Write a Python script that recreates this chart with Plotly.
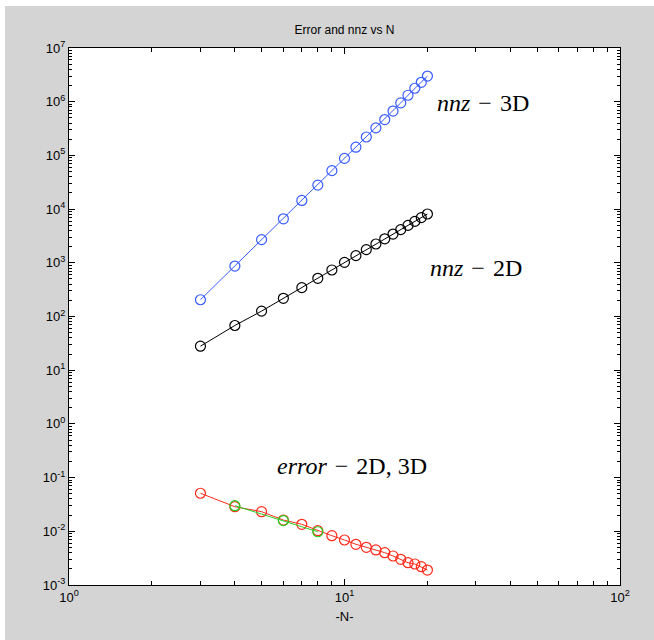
import plotly.graph_objects as go

# ---- data ----
N = [3, 4, 5, 6, 7, 8, 9, 10, 11, 12, 13, 14, 15, 16, 17, 18, 19, 20]
nnz_3d = [205, 870, 2700, 6600, 14500, 28000, 52000, 88000, 142000, 220000,
          325000, 465000, 670000, 950000, 1320000, 1780000, 2300000, 3000000]
nnz_2d = [28, 68, 126, 218, 345, 515, 735, 1020, 1360, 1760,
          2240, 2800, 3430, 4150, 4970, 5900, 6950, 8100]
err_2d = [0.0511, 0.0287, 0.0232, 0.0162, 0.0135, 0.01025, 0.00828, 0.00689,
          0.00573, 0.00504, 0.00449, 0.0040, 0.00347, 0.00301, 0.0026,
          0.00246, 0.00219, 0.0019]
N_3d_err = [4, 6, 8]
err_3d = [0.0300, 0.0158, 0.0098]

x_exps = [0, 1, 2]
x_ticks = [10.0 ** e for e in x_exps]
x_ticktext = ["10<sup>%d</sup>" % e for e in x_exps]
y_exps = list(range(-3, 8))
y_ticks = [10.0 ** e for e in y_exps]
y_ticktext = ["10<sup>%d</sup>" % e for e in y_exps]
minor_digits = [2, 3, 4, 5, 6, 7, 8, 9]

title_text = "Error and nnz vs N"
x_title = "-N-"

BLUE = "#3a5cff"
BLACK = "#000000"
RED = "#ff2a1a"
GREEN = "#22d022"
GRAY = "#d4d4d4"

fig = go.Figure()

def add_series(x, y, color):
    fig.add_trace(go.Scatter(
        x=x, y=y, mode="lines+markers",
        line=dict(color=color, width=1),
        marker=dict(symbol="circle-open", size=10, color=color,
                    line=dict(width=1.2, color=color)),
        showlegend=False, hoverinfo="x+y"))

add_series(N, nnz_3d, BLUE)
add_series(N, nnz_2d, BLACK)
add_series(N, err_2d, RED)
add_series(N_3d_err, err_3d, GREEN)

ann_font = dict(family="Liberation Serif, DejaVu Serif, serif", size=24, color="black")
SP = "&#8202;&nbsp;"
fig.add_annotation(x=1.328, y=5.976, xref="x", yref="y", text="<i>nnz</i>" + SP + "−" + SP + "3D",
                   showarrow=False, xanchor="left", yanchor="middle", font=ann_font)
fig.add_annotation(x=1.303, y=2.903, xref="x", yref="y", text="<i>nnz</i>" + SP + "−" + SP + "2D",
                   showarrow=False, xanchor="left", yanchor="middle", font=ann_font)
fig.add_annotation(x=0.748, y=-0.784, xref="x", yref="y",
                   text="<i>error</i>" + SP + "−" + SP + "2D,&nbsp;3D",
                   showarrow=False, xanchor="left", yanchor="middle", font=ann_font)

tick_font = dict(family="Liberation Sans, Arial, sans-serif", size=13, color="black")

def minor_vals(lo, hi):
    return [d * 10.0 ** e for e in range(lo, hi) for d in minor_digits]

axis_common = dict(
    type="log", showline=True, linecolor="black", linewidth=1, mirror="allticks",
    ticks="inside", ticklen=6, tickwidth=1, tickcolor="black",
    showgrid=False, zeroline=False, tickfont=tick_font,
)

fig.update_xaxes(range=[0, 2], tickmode="array", tickvals=x_ticks, ticktext=x_ticktext,
                 minor=dict(tickmode="array", tickvals=minor_vals(0, 2), ticks="inside",
                            ticklen=4, tickwidth=1, tickcolor="black", showgrid=False),
                 title=dict(text=x_title, font=tick_font, standoff=8),
                 **axis_common)
fig.update_yaxes(range=[-3, 7], tickmode="array", tickvals=y_ticks, ticktext=y_ticktext,
                 minor=dict(tickmode="array", tickvals=minor_vals(-3, 7), ticks="inside",
                            ticklen=3, tickwidth=1, tickcolor="black", showgrid=False),
                 **axis_common)

# white strip at top/left of the page like the reference screenshot
fig.add_shape(type="rect", xref="paper", yref="paper", x0=-0.2, x1=-0.1162, y0=-0.2, y1=1.2,
              fillcolor="white", line=dict(width=0), layer="below")
fig.add_shape(type="rect", xref="paper", yref="paper", x0=-0.2, x1=1.2, y0=1.0782, y1=1.2,
              fillcolor="white", line=dict(width=0), layer="below")

fig.update_layout(
    width=654, height=640,
    margin=dict(l=69, r=34, t=48, b=55),
    paper_bgcolor=GRAY, plot_bgcolor="white",
    title=dict(text=title_text, x=0.5, xref="paper", y=1 - 30 / 640, yanchor="middle",
               font=dict(family="Liberation Sans, Arial, sans-serif", size=12, color="black")),
)

fig.write_html("out.html")
